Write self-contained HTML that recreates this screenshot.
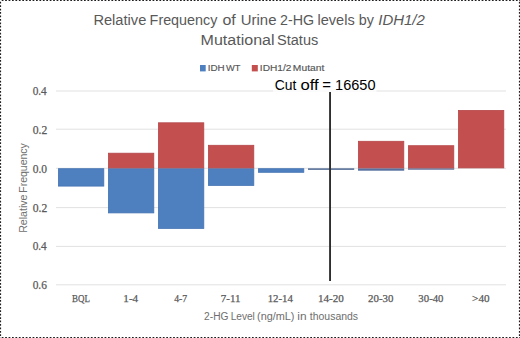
<!DOCTYPE html>
<html>
<head>
<meta charset="utf-8">
<style>
html,body{margin:0;padding:0;background:#fff;}
body{width:520px;height:338px;overflow:hidden;}
svg{display:block;}
.s{font-family:"Liberation Sans",sans-serif;}
.r{font-family:"Liberation Serif",serif;}
</style>
</head>
<body>
<svg width="520" height="338" viewBox="0 0 520 338">
<rect x="0" y="0" width="520" height="338" fill="#fff"/>
<!-- dotted border -->
<g stroke="#1e1e1e" stroke-width="1.1" stroke-dasharray="1.75 1.678" fill="none">
<line x1="1.72" y1="0.55" x2="520" y2="0.55"/>
<line x1="0.55" y1="1.82" x2="0.55" y2="338"/>
<line x1="519.45" y1="1.82" x2="519.45" y2="338"/>
<line x1="1.72" y1="337.45" x2="520" y2="337.45"/>
</g>
<!-- gridlines -->
<g fill="#e1e1e1">
<rect x="56" y="90.50" width="450" height="1"/>
<rect x="56" y="128.70" width="450" height="1"/>
<rect x="56" y="167.80" width="450" height="1"/>
<rect x="56" y="207.10" width="450" height="1"/>
<rect x="56" y="245.90" width="450" height="1"/>
<rect x="56" y="284.30" width="450" height="1"/>
</g>
<rect x="273" y="89.5" width="103.5" height="3" fill="#fff" fill-opacity="0.7"/>
<!-- bars -->
<g fill="#4e80c0" stroke="#4473b2" stroke-width="0.8">
<rect x="58.4" y="168.7" width="45.4" height="17.40"/>
<rect x="108.4" y="168.7" width="45.4" height="44.20"/>
<rect x="158.4" y="168.7" width="45.4" height="59.70"/>
<rect x="208.4" y="168.7" width="45.4" height="16.70"/>
<rect x="258.4" y="168.7" width="45.4" height="3.60"/>
</g>
<g stroke="none">
<rect x="308" y="168.3" width="46.2" height="1.6" fill="#587099"/>
<rect x="358" y="168.3" width="46.2" height="2.4" fill="#56709f"/>
<rect x="408" y="168.3" width="46.2" height="1.4" fill="#566a93"/>
</g>
<g fill="#c3504e" stroke="#b4474a" stroke-width="0.8">
<rect x="108.4" y="153.2" width="45.4" height="14.70"/>
<rect x="158.4" y="122.8" width="45.4" height="45.10"/>
<rect x="208.4" y="145.3" width="45.4" height="22.60"/>
<rect x="358.4" y="141.3" width="45.4" height="26.60"/>
<rect x="408.4" y="145.7" width="45.4" height="22.20"/>
<rect x="458.4" y="110.4" width="45.4" height="57.50"/>
</g>
<!-- cut off line -->
<rect x="329.1" y="92" width="1.9" height="189" fill="#2e2e2e"/>
<text class="s" x="274.71" y="90.2" font-size="14" fill="#000" textLength="21.59" lengthAdjust="spacingAndGlyphs">Cut</text>
<text class="s" x="300.5" y="90.2" font-size="14" fill="#000" textLength="18.26" lengthAdjust="spacingAndGlyphs">off</text>
<text class="s" x="322.38" y="90.2" font-size="14" fill="#000" textLength="8.75" lengthAdjust="spacingAndGlyphs">=</text>
<text class="s" x="335.09" y="90.2" font-size="14" fill="#000" textLength="40.46" lengthAdjust="spacingAndGlyphs">16650</text>
<!-- title -->
<text class="s" x="93.4" y="25" font-size="14" fill="#595959" textLength="52.94" lengthAdjust="spacingAndGlyphs">Relative</text>
<text class="s" x="149.63" y="25" font-size="14" fill="#595959" textLength="67.7" lengthAdjust="spacingAndGlyphs">Frequency</text>
<text class="s" x="222.43" y="25" font-size="14" fill="#595959" textLength="13.34" lengthAdjust="spacingAndGlyphs">of</text>
<text class="s" x="240.75" y="25" font-size="14" fill="#595959" textLength="35.7" lengthAdjust="spacingAndGlyphs">Urine</text>
<text class="s" x="280.09" y="25" font-size="14" fill="#595959" textLength="34.07" lengthAdjust="spacingAndGlyphs">2-HG</text>
<text class="s" x="317.53" y="25" font-size="14" fill="#595959" textLength="37.19" lengthAdjust="spacingAndGlyphs">levels</text>
<text class="s" x="358.68" y="25" font-size="14" fill="#595959" textLength="15.15" lengthAdjust="spacingAndGlyphs">by</text>
<text class="s" x="378.22" y="25" font-size="14" fill="#595959" font-style="italic" textLength="46.6" lengthAdjust="spacingAndGlyphs">IDH1/2</text>
<text class="s" x="200.59" y="44.6" font-size="14" fill="#595959" textLength="73.97" lengthAdjust="spacingAndGlyphs">Mutational</text>
<text class="s" x="277.05" y="44.6" font-size="14" fill="#595959" textLength="41.18" lengthAdjust="spacingAndGlyphs">Status</text>
<!-- legend -->
<rect x="200" y="65" width="5.7" height="6.4" fill="#4e80c0"/>
<rect x="251.8" y="65" width="6" height="6.4" fill="#c3504e"/>
<text class="s" x="207.8" y="71" font-size="9.6" fill="#555" stroke="#555" stroke-width="0.15" textLength="16.9" lengthAdjust="spacingAndGlyphs">IDH</text>
<text class="s" x="225.96" y="71" font-size="9.6" fill="#555" stroke="#555" stroke-width="0.15" textLength="14.45" lengthAdjust="spacingAndGlyphs">WT</text>
<text class="s" x="259.87" y="71" font-size="9.6" fill="#555" stroke="#555" stroke-width="0.15" textLength="31.54" lengthAdjust="spacingAndGlyphs">IDH1/2</text>
<text class="s" x="292.86" y="71" font-size="9.6" fill="#555" stroke="#555" stroke-width="0.15" textLength="31.42" lengthAdjust="spacingAndGlyphs">Mutant</text>
<!-- y labels -->
<g class="r" font-size="11.5" fill="#5a5a5a" stroke="#5a5a5a" stroke-width="0.25">
<text x="32.67" y="95.2" textLength="14.1" lengthAdjust="spacingAndGlyphs">0.4</text>
<text x="32.66" y="134.0" textLength="14.59" lengthAdjust="spacingAndGlyphs">0.2</text>
<text x="32.66" y="172.5" textLength="14.37" lengthAdjust="spacingAndGlyphs">0.0</text>
<text x="32.66" y="211.6" textLength="14.59" lengthAdjust="spacingAndGlyphs">0.2</text>
<text x="32.67" y="250.4" textLength="14.1" lengthAdjust="spacingAndGlyphs">0.4</text>
<text x="32.67" y="289.0" textLength="14.26" lengthAdjust="spacingAndGlyphs">0.6</text>
</g>
<!-- x labels -->
<g class="r" font-size="10.5" fill="#5a5a5a" stroke="#5a5a5a" stroke-width="0.25">
<text x="72.05" y="302" textLength="17.89" lengthAdjust="spacingAndGlyphs">BQL</text>
<text x="123.33" y="302" textLength="14.84" lengthAdjust="spacingAndGlyphs">1-4</text>
<text x="174.22" y="302" textLength="12.96" lengthAdjust="spacingAndGlyphs">4-7</text>
<text x="220.79" y="302" textLength="19.67" lengthAdjust="spacingAndGlyphs">7-11</text>
<text x="267.66" y="302" textLength="25.31" lengthAdjust="spacingAndGlyphs">12-14</text>
<text x="317.93" y="302" textLength="25.89" lengthAdjust="spacingAndGlyphs">14-20</text>
<text x="368.13" y="302" textLength="25.38" lengthAdjust="spacingAndGlyphs">20-30</text>
<text x="418.39" y="302" textLength="25.12" lengthAdjust="spacingAndGlyphs">30-40</text>
<text x="472.14" y="302" textLength="17.48" lengthAdjust="spacingAndGlyphs">&gt;40</text>
</g>
<g transform="translate(26.8,232) rotate(-90)">
<text class="s" x="-0.87" y="0" font-size="10" fill="#707070" textLength="38.33" lengthAdjust="spacingAndGlyphs">Relative</text>
<text class="s" x="39.24" y="0" font-size="10" fill="#707070" textLength="49.58" lengthAdjust="spacingAndGlyphs">Frequency</text>
</g>
<text class="s" x="204.09" y="319.5" font-size="10" fill="#6e6e6e" textLength="24.37" lengthAdjust="spacingAndGlyphs">2-HG</text>
<text class="s" x="230.67" y="319.5" font-size="10" fill="#6e6e6e" textLength="24.2" lengthAdjust="spacingAndGlyphs">Level</text>
<text class="s" x="257.03" y="319.5" font-size="10" fill="#6e6e6e" textLength="37.45" lengthAdjust="spacingAndGlyphs">(ng/mL)</text>
<text class="s" x="297.32" y="319.5" font-size="10" fill="#6e6e6e" textLength="9.25" lengthAdjust="spacingAndGlyphs">in</text>
<text class="s" x="309.84" y="319.5" font-size="10" fill="#6e6e6e" textLength="48.23" lengthAdjust="spacingAndGlyphs">thousands</text>
</svg>
</body>
</html>
